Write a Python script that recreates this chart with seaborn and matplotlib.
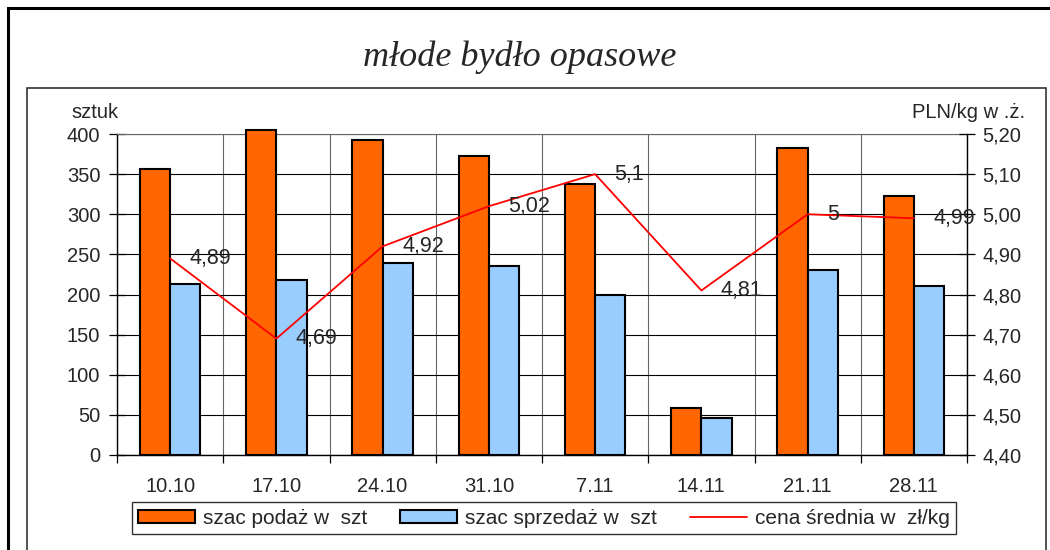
import numpy as np
import pandas as pd
import seaborn as sns
import matplotlib
matplotlib.use("Agg")
import matplotlib.pyplot as plt
from matplotlib.patches import Rectangle, Patch
from matplotlib.lines import Line2D
from matplotlib.ticker import FuncFormatter, MultipleLocator

# ---- data ----
categories = ["10.10", "17.10", "24.10", "31.10", "7.11", "14.11", "21.11", "28.11"]
supply = [357, 405, 393, 373, 338, 58, 382, 323]
sales = [213, 218, 239, 236, 200, 46, 231, 210]
price = [4.89, 4.69, 4.92, 5.02, 5.10, 4.81, 5.00, 4.99]
series_names = ["szac podaż w  szt", "szac sprzedaż w  szt", "cena średnia w  zł/kg"]
title = "młode bydło opasowe"
left_label = "sztuk"
right_label = "PLN/kg w .ż."

ORANGE = "#FF6600"
BLUE = "#99CCFF"
RED = "#FF0000"

sns.set_theme(style="white")
plt.rcParams["font.family"] = ["Liberation Sans", "DejaVu Sans"]

df = pd.DataFrame({
    "week": categories * 2,
    "count": supply + sales,
    "series": [series_names[0]] * len(categories) + [series_names[1]] * len(categories),
})

W, H = 1050, 550
fig = plt.figure(figsize=(W / 100, H / 100), dpi=100)
ax = fig.add_axes([117 / W, 1 - 455 / H, 850 / W, 321 / H])

sns.barplot(data=df, x="week", y="count", hue="series", order=categories,
            palette=[ORANGE, BLUE], width=0.57, edgecolor="black", linewidth=1.5,
            saturation=1, ax=ax, legend=False, zorder=3, clip_on=False)

ax.set_xlim(-0.5, len(categories) - 0.5)
ax.set_ylim(0, 400)
ax.yaxis.set_major_locator(MultipleLocator(50))
ax.set_xlabel("")
ax.set_ylabel("")
ax.set_axisbelow(True)

# horizontal grid
ax.yaxis.grid(True, color="black", lw=0.8)
# vertical grid at category boundaries
ax.set_xticks(np.arange(-0.5, len(categories), 1), minor=True)
ax.xaxis.grid(True, which="minor", color="#666666", lw=0.8)
ax.xaxis.grid(False, which="major")

TICK_FS = 14.5
ax.tick_params(axis="x", which="major", length=0, pad=16, labelsize=TICK_FS)
ax.tick_params(axis="x", which="minor", length=6, width=0.9, direction="out", color="black", bottom=True)
ax.tick_params(axis="y", which="major", length=12, width=0.9, direction="inout", color="black",
               left=True, pad=6, labelsize=TICK_FS)

for side in ["left", "bottom", "right"]:
    ax.spines[side].set_color("black")
    ax.spines[side].set_linewidth(1.0)
ax.spines["top"].set_color("#666666")
ax.spines["top"].set_linewidth(0.8)

# ---- price line on secondary axis ----
ax2 = ax.twinx()
x_idx = np.arange(len(categories))
sns.lineplot(x=x_idx, y=price, ax=ax2, color=RED, lw=1.3, zorder=4)
ax2.set_ylim(4.4, 5.2)
ax2.yaxis.set_major_locator(MultipleLocator(0.1))
ax2.yaxis.set_major_formatter(FuncFormatter(lambda v, p: f"{v:.2f}".replace(".", ",")))
ax2.tick_params(axis="y", which="major", length=12, width=0.9, direction="inout", color="black",
                right=True, pad=5, labelsize=TICK_FS)
ax2.set_ylabel("")
ax2.set_xlim(-0.5, len(categories) - 0.5)
for s in ax2.spines.values():
    s.set_visible(False)

for i, v in enumerate(price):
    ax2.annotate(f"{v:g}".replace(".", ","), (x_idx[i], v), xytext=(14, 0),
                 textcoords="offset points", ha="left", va="center", fontsize=15.5, zorder=5)

# ---- axis titles ----
fig.text(95 / W, 1 - 112 / H, left_label, ha="center", va="center", fontsize=TICK_FS)
fig.text(969 / W, 1 - 112 / H, right_label, ha="center", va="center", fontsize=TICK_FS)

# ---- title ----
fig.text(520 / W, 1 - 57 / H, title, ha="center", va="center", fontsize=26,
         family="Liberation Serif", style="italic")

# ---- legend ----
handles = [
    Patch(facecolor=ORANGE, edgecolor="black", linewidth=1.5),
    Patch(facecolor=BLUE, edgecolor="black", linewidth=1.5),
    Line2D([], [], color=RED, lw=1.3),
]
leg = fig.legend(handles, series_names, ncol=3, loc="center",
                 bbox_to_anchor=(544 / W, 1 - 518 / H), frameon=True, fancybox=False,
                 edgecolor="black", handlelength=2.7, handleheight=0.6, handletextpad=0.4,
                 columnspacing=1.6, borderpad=0.3, borderaxespad=0, fontsize=15)
leg.get_frame().set_linewidth(1.0)

# ---- chart frames ----
fig.patches.append(Rectangle((8 / W, -0.1), 1.2, 1 - 8 / H + 0.1, transform=fig.transFigure,
                             fill=False, ec="black", lw=2.2))
fig.patches.append(Rectangle((27 / W, -0.1), (1046 - 27) / W, 1 - 88 / H + 0.1,
                             transform=fig.transFigure, fill=False, ec="#333333", lw=1.2))

fig.savefig("out.png", dpi=100)
